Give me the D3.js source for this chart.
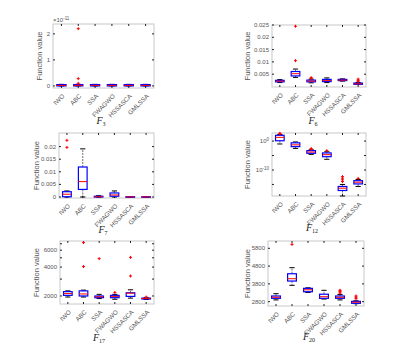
<!DOCTYPE html>
<html>
<head>
<meta charset="utf-8">
<script src="https://cdn.jsdelivr.net/npm/d3@7"></script>
<style>
  body { margin: 0; background: #fff; }
  text { font-family: Arial, "Liberation Sans", sans-serif; }
</style>
</head>
<body>
<script>
// algorithms on the x axis
var algos = ["IWO", "ABC", "SSA", "FWAGWO", "HSSASCA", "GMLSSA"];

// box stats per algorithm: [q1, median, q3, lower whisker, upper whisker]
// outliers: [algorithm index, value]
var f3Box = [[0, 0.02, 0.05, 0, 0.06], [0, 0.02, 0.05, 0, 0.06], [0, 0.02, 0.05, 0, 0.06],
             [0, 0.02, 0.05, 0, 0.06], [0, 0.02, 0.05, 0, 0.06], [0, 0.02, 0.05, 0, 0.06]];
var f3Out = [[1, 2.2], [1, 0.28], [1, 0.1]];
var f3Ticks = [0, 1, 2];

var f6Box = [[0.0019, 0.0022, 0.0025, 0.0016, 0.0028], [0.0043, 0.0052, 0.0061, 0.0037, 0.0071],
             [0.0019, 0.0022, 0.0026, 0.0015, 0.003], [0.002, 0.0024, 0.0029, 0.0016, 0.0035],
             [0.0024, 0.0026, 0.0029, 0.0022, 0.0031], [0.0009, 0.0011, 0.0014, 0.0008, 0.0016]];
var f6Out = [[1, 0.0105], [1, 0.0245], [2, 0.0033], [2, 0.0036], [5, 0.0021], [5, 0.0025], [5, 0.003]];
var f6Ticks = [0.005, 0.01, 0.015, 0.02, 0.025];

var f7Box = [[0.0001, 0.0011, 0.0021, 0, 0.0024], [0.003, 0.0061, 0.0119, 0, 0.0191],
             [0, 0.0001, 0.0003, 0, 0.0005], [0.0003, 0.0008, 0.0016, 0, 0.0024],
             [0, 0.00003, 0.0001, 0, 0.0001], [0, 0.00003, 0.0001, 0, 0.0001]];
var f7Out = [[0, 0.0197], [0, 0.0225]];
var f7Ticks = [0, 0.005, 0.01, 0.015, 0.02];

var f12Box = [[1.3, 20, 100, 0.1, 200], [0.012, 0.05, 0.25, 0.003, 0.5],
              [6e-5, 1.6e-4, 5e-4, 2.5e-5, 1e-3], [4e-6, 2e-5, 8e-5, 5e-7, 2e-4],
              [8e-18, 5e-17, 2e-16, 1e-19, 1e-15], [1.5e-15, 6e-15, 2e-14, 2e-16, 5e-14]];
var f12Out = [[0, 300], [0, 500], [2, 1.5e-3], [2, 2.5e-3], [3, 5e-4],
              [4, 1e-14], [4, 4e-14], [4, 1.5e-13], [4, 5e-13], [5, 1.2e-13]];
var f12Ticks = [1, 1e-5, 1e-10, 1e-15];

var f17Box = [[2030, 2120, 2220, 1950, 2260], [2000, 2100, 2260, 1950, 2300],
              [1920, 1960, 2000, 1880, 2080], [1920, 1980, 2030, 1850, 2080],
              [1980, 2140, 2160, 1900, 2320], [1860, 1880, 1900, 1840, 1920]];
var f17Out = [[1, 4050], [1, 7200], [2, 4900], [3, 2180], [4, 3230], [4, 5050], [5, 1950]];
var f17Ticks = [2000, 3000, 4000, 5000, 6000, 7000];

var f20Box = [[2990, 3050, 3120, 2900, 3250], [3960, 4090, 4370, 3720, 4710],
              [3360, 3470, 3550, 3320, 3580], [2990, 3080, 3220, 2950, 3440],
              [2990, 3050, 3120, 2900, 3200], [2710, 2770, 2820, 2690, 2850]];
var f20Out = [[1, 6020], [4, 3280], [4, 3350], [4, 3400], [4, 3440], [5, 2970], [5, 3050], [5, 3120]];
var f20Ticks = [2800, 3800, 4800, 5800];

var svg = d3.select("body").append("svg")
    .attr("width", 406)
    .attr("height", 355);

function drawPanel(p) {
  var x = d3.scaleBand().domain(algos).range([p.x0, p.x1]);
  var y = (p.log ? d3.scaleLog() : d3.scaleLinear()).domain(p.domain).range([p.y1, p.y0]);
  var g = svg.append("g");
  var bw = x.bandwidth() * 0.55;

  // frame
  g.append("rect")
      .attr("x", p.x0).attr("y", p.y0)
      .attr("width", p.x1 - p.x0).attr("height", p.y1 - p.y0)
      .attr("fill", "none").attr("stroke", "#c8c8c8").attr("stroke-width", 1);

  // y ticks, both sides, pointing in
  p.ticks.forEach(function(t, i) {
    var yy = y(t);
    g.append("line").attr("x1", p.x0).attr("x2", p.x0 + 2).attr("y1", yy).attr("y2", yy)
        .attr("stroke", "#222");
    g.append("line").attr("x1", p.x1).attr("x2", p.x1 - 2).attr("y1", yy).attr("y2", yy)
        .attr("stroke", "#222");
    var lab = p.labels[i];
    if (lab === "") return;
    var txt = g.append("text")
        .attr("x", p.x0 - 3).attr("y", yy).attr("dy", "0.35em")
        .attr("text-anchor", "end").attr("font-size", 6).attr("fill", "#555");
    if (Array.isArray(lab)) {
      txt.append("tspan").text(lab[0]);
      txt.append("tspan").attr("dy", "-0.5em").attr("font-size", 4.5).text(lab[1]);
    } else {
      txt.text(lab);
    }
  });

  // x ticks top and bottom
  algos.forEach(function(a) {
    var cx = x(a) + x.bandwidth() / 2;
    g.append("line").attr("x1", cx).attr("x2", cx).attr("y1", p.y0).attr("y2", p.y0 + 2)
        .attr("stroke", "#222");
    g.append("line").attr("x1", cx).attr("x2", cx).attr("y1", p.y1).attr("y2", p.y1 - 2)
        .attr("stroke", "#222");
    g.append("text")
        .attr("transform", "translate(" + (cx + 2) + "," + (p.y1 + 7) + ") rotate(-45)")
        .attr("text-anchor", "end").attr("dy", "0.35em")
        .attr("font-size", 6.3).attr("fill", "#555")
        .text(a);
  });

  // boxes
  p.box.forEach(function(b, i) {
    var cx = x(algos[i]) + x.bandwidth() / 2;
    // whiskers
    g.append("line").attr("x1", cx).attr("x2", cx).attr("y1", y(b[2])).attr("y2", y(b[4]))
        .attr("stroke", "#333").attr("stroke-width", 0.7).attr("stroke-dasharray", "2,1");
    g.append("line").attr("x1", cx).attr("x2", cx).attr("y1", y(b[0])).attr("y2", y(b[3]))
        .attr("stroke", "#333").attr("stroke-width", 0.7).attr("stroke-dasharray", "2,1");
    [b[3], b[4]].forEach(function(w) {
      g.append("line").attr("x1", cx - bw * 0.3).attr("x2", cx + bw * 0.3)
          .attr("y1", y(w)).attr("y2", y(w)).attr("stroke", "#000").attr("stroke-width", 1);
    });
    g.append("rect")
        .attr("x", cx - bw / 2).attr("width", bw)
        .attr("y", y(b[2])).attr("height", Math.max(0.5, y(b[0]) - y(b[2])))
        .attr("fill", "#fff").attr("stroke", "#0000ff").attr("stroke-width", 1.2);
    g.append("line").attr("x1", cx - bw / 2).attr("x2", cx + bw / 2)
        .attr("y1", y(b[1])).attr("y2", y(b[1]))
        .attr("stroke", "#ff0000").attr("stroke-width", 1);
  });

  // outliers as red plus signs
  p.out.forEach(function(o) {
    var cx = x(algos[o[0]]) + x.bandwidth() / 2, cy = y(o[1]);
    g.append("path")
        .attr("d", "M" + (cx - 1.5) + "," + cy + "h3M" + cx + "," + (cy - 1.5) + "v3")
        .attr("stroke", "#ff0000").attr("stroke-width", 1);
  });

  // y label
  g.append("text")
      .attr("transform", "translate(" + p.ylx + "," + ((p.y0 + p.y1) / 2) + ") rotate(-90)")
      .attr("text-anchor", "middle").attr("font-size", 7.5).attr("fill", "#555")
      .text("Function value");

  if (p.exp) {
    var e = g.append("text").attr("x", p.x0).attr("y", p.y0 - 2)
        .attr("font-size", 6).attr("fill", "#555");
    e.append("tspan").text("\u00d710");
    e.append("tspan").attr("dy", "-0.5em").attr("font-size", 4.5).text(p.exp);
  }

  // title
  var t = g.append("text").attr("x", p.tx).attr("y", p.ty)
      .attr("text-anchor", "middle")
      .style("font-family", "'Liberation Serif', 'Times New Roman', serif")
      .attr("fill", "#222");
  t.append("tspan").attr("font-size", 10).attr("font-style", "italic").text("F");
  t.append("tspan").attr("font-size", 6).attr("dy", "0.3em").text(p.sub);
}

drawPanel({x0: 53, x1: 154, y0: 24, y1: 88, domain: [-0.08, 2.38], box: f3Box, out: f3Out,
  ticks: f3Ticks, labels: ["0", "1", "2"], ylx: 42, exp: "-11", tx: 101, ty: 124, sub: "3"});
drawPanel({x0: 272, x1: 366, y0: 25, y1: 87, domain: [-0.0002, 0.025], box: f6Box, out: f6Out,
  ticks: f6Ticks, labels: ["0.005", "0.01", "0.015", "0.02", "0.025"], ylx: 250, tx: 313, ty: 124, sub: "6"});
drawPanel({x0: 59, x1: 154, y0: 133, y1: 198, domain: [-0.0004, 0.0254], box: f7Box, out: f7Out,
  ticks: f7Ticks, labels: ["0", "0.005", "0.01", "0.015", "0.02"], ylx: 39, tx: 103, ty: 233, sub: "7"});
drawPanel({x0: 272, x1: 366, y0: 133, y1: 196, domain: [1e-19, 630], log: true, box: f12Box, out: f12Out,
  ticks: f12Ticks, labels: [["10", "0"], "", ["10", "-10"], ""], ylx: 250, tx: 312, ty: 231, sub: "12"});
drawPanel({x0: 60, x1: 154, y0: 241, y1: 304, domain: [1650, 7480], log: true, box: f17Box, out: f17Out,
  ticks: f17Ticks, labels: ["2000", "", "4000", "", "6000", ""], ylx: 39, tx: 99, ty: 341, sub: "17"});
drawPanel({x0: 268, x1: 364, y0: 241, y1: 306, domain: [2558, 6210], box: f20Box, out: f20Out,
  ticks: f20Ticks, labels: ["2800", "3800", "4800", "5800"], ylx: 250, tx: 309, ty: 340, sub: "20"});
</script>
</body>
</html>
